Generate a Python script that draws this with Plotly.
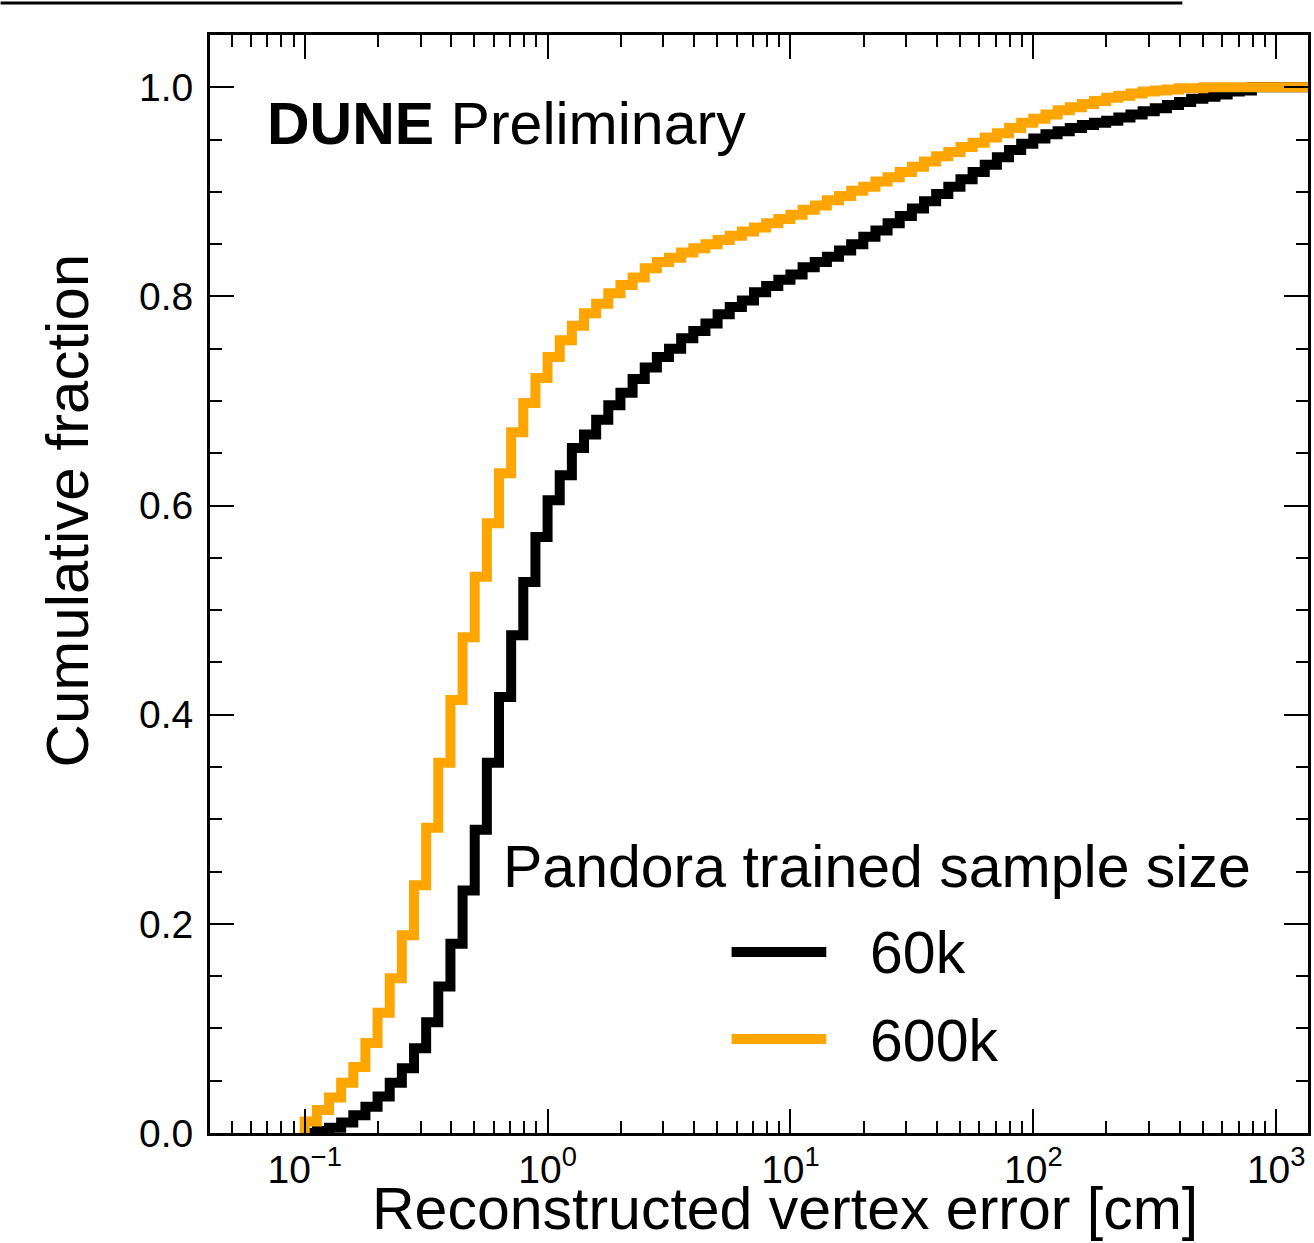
import numpy as np
import plotly.graph_objects as go

# ---------------- data ----------------
# log-spaced bins, 20 per decade starting at 0.1 cm
bin_edges = np.logspace(-1, 3.3, 87)

# cumulative fraction per bin (level of the step over each bin)
frac_60k = [
    0.000, 0.002, 0.005, 0.010, 0.017, 0.025, 0.035, 0.048, 0.062, 0.081,
    0.106, 0.140, 0.181, 0.232, 0.290, 0.354, 0.417, 0.476, 0.527, 0.570,
    0.605, 0.629, 0.655, 0.668, 0.682, 0.696, 0.708, 0.721, 0.732, 0.742,
    0.750, 0.760, 0.767, 0.774, 0.783, 0.790, 0.796, 0.804, 0.810, 0.816,
    0.821, 0.828, 0.833, 0.838, 0.844, 0.850, 0.857, 0.863, 0.870, 0.877,
    0.884, 0.891, 0.898, 0.905, 0.912, 0.919, 0.926, 0.933, 0.940, 0.946,
    0.951, 0.955, 0.958, 0.961, 0.964, 0.966, 0.968, 0.971, 0.974, 0.977,
    0.980, 0.983, 0.986, 0.989, 0.991, 0.993, 0.996, 0.997, 1.000, 1.000,
    1.000, 1.000, 1.000, 1.000, 1.000, 1.000,
]
frac_600k = [
    0.011, 0.022, 0.034, 0.048, 0.063, 0.086, 0.115, 0.148, 0.189, 0.237,
    0.292, 0.354, 0.414, 0.474, 0.532, 0.583, 0.631, 0.670, 0.698, 0.722,
    0.742, 0.758, 0.772, 0.784, 0.793, 0.803, 0.811, 0.818, 0.827, 0.833,
    0.837, 0.842, 0.846, 0.850, 0.854, 0.858, 0.862, 0.866, 0.870, 0.874,
    0.878, 0.883, 0.887, 0.892, 0.896, 0.901, 0.905, 0.910, 0.914, 0.919,
    0.924, 0.929, 0.934, 0.938, 0.943, 0.947, 0.952, 0.956, 0.961, 0.966,
    0.970, 0.974, 0.978, 0.981, 0.984, 0.987, 0.990, 0.992, 0.994, 0.996,
    0.997, 0.998, 0.999, 0.999, 1.000, 1.000, 1.000, 1.000, 1.000, 1.000,
    1.000, 1.000, 1.000, 1.000, 1.000, 1.000,
]
series_names = ["60k", "600k"]
series_colors = ["#000000", "#FFA500"]

x_tickvals = [0.1, 1, 10, 100, 1000]
x_ticktext = ["10<sup>\u22121</sup>", "10<sup>0</sup>", "10<sup>1</sup>",
              "10<sup>2</sup>", "10<sup>3</sup>"]
y_tickvals = [0.0, 0.2, 0.4, 0.6, 0.8, 1.0]
y_ticktext = ["0.0", "0.2", "0.4", "0.6", "0.8", "1.0"]

# ---------------- geometry helpers (pixel -> paper) ----------------
PL, PR, PT, PB = 210, 1311, 35, 1133
def px(xp):
    return (xp - PL) / (PR - PL)
def py(yp):
    return (PB - yp) / (PB - PT)

FONT = "Liberation Sans, Arial, Helvetica, sans-serif"
BIG = 59

fig = go.Figure()

def step_xy(edges, levels):
    n = len(levels)
    xs = [edges[0]] + list(edges[:n]) + [edges[n]]
    ys = [0.0] + list(levels) + [levels[-1]]
    return xs, ys

for vals, name, col in zip([frac_60k, frac_600k], series_names, series_colors):
    xs, ys = step_xy(bin_edges, vals)
    fig.add_trace(go.Scatter(x=xs, y=ys, mode="lines", name=name,
                             line=dict(color=col, width=10, shape="hv"),
                             hoverinfo="skip"))

minor_x = [m * 10.0 ** e for e in range(-2, 4) for m in range(2, 10)]
minor_x = [v for v in minor_x if 0.04 < v < 1400]
minor_y = [round(0.05 * i, 2) for i in range(0, 22) if i % 4 != 0]

fig.update_xaxes(
    type="log", range=[-1.390, 3.131],
    showline=True, linewidth=3, linecolor="black", mirror="ticks",
    ticks="inside", ticklen=24, tickwidth=2, tickcolor="black",
    tickmode="array", tickvals=x_tickvals, ticktext=x_ticktext,
    tickfont=dict(size=39, family=FONT, color="black"),
    showgrid=False, zeroline=False,
    minor=dict(tickmode="array", tickvals=minor_x, ticks="inside",
               ticklen=12, tickwidth=1.5, tickcolor="black", showgrid=False),
)
fig.update_yaxes(
    range=[0, 1.05],
    showline=True, linewidth=3, linecolor="black", mirror="ticks",
    ticks="inside", ticklen=24, tickwidth=2, tickcolor="black",
    tickmode="array", tickvals=y_tickvals, ticktext=y_ticktext,
    tickfont=dict(size=39, family=FONT, color="black"),
    ticklabelstandoff=6,
    showgrid=False, zeroline=False,
    minor=dict(tickmode="array", tickvals=minor_y, ticks="inside",
               ticklen=12, tickwidth=1.5, tickcolor="black", showgrid=False),
)

annotations = [
    dict(text="<b>DUNE</b> Preliminary", x=px(265), y=py(124),
         xanchor="left", yanchor="middle", font=dict(size=BIG)),
    dict(text="Cumulative fraction", x=px(67), y=py(510), textangle=-90,
         xanchor="center", yanchor="middle", font=dict(size=60)),
    dict(text="Reconstructed vertex error [cm]", x=px(787), y=py(1209),
         xanchor="center", yanchor="middle", font=dict(size=BIG)),
    dict(text="Pandora trained sample size", x=px(502), y=py(867),
         xanchor="left", yanchor="middle", font=dict(size=BIG)),
    dict(text=series_names[0], x=px(870), y=py(953),
         xanchor="left", yanchor="middle", font=dict(size=BIG)),
    dict(text=series_names[1], x=px(870), y=py(1041),
         xanchor="left", yanchor="middle", font=dict(size=BIG)),
]
for a in annotations:
    a.update(xref="paper", yref="paper", showarrow=False)
    a["font"].update(family=FONT, color="black")

shapes = [
    dict(type="line", xref="paper", yref="paper",
         x0=px(733), x1=px(828), y0=py(952), y1=py(952),
         line=dict(color=series_colors[0], width=10)),
    dict(type="line", xref="paper", yref="paper",
         x0=px(733), x1=px(828), y0=py(1039), y1=py(1039),
         line=dict(color=series_colors[1], width=10)),
    dict(type="line", xref="paper", yref="paper",
         x0=px(0), x1=px(1185), y0=py(3), y1=py(3),
         line=dict(color="black", width=3)),
]

fig.update_layout(
    width=1314, height=1243,
    margin=dict(l=PL, r=1314 - PR, t=PT, b=1243 - PB),
    plot_bgcolor="white", paper_bgcolor="white",
    showlegend=False,
    font=dict(family=FONT, color="black"),
    annotations=annotations, shapes=shapes,
)

fig.write_html("out.html")
